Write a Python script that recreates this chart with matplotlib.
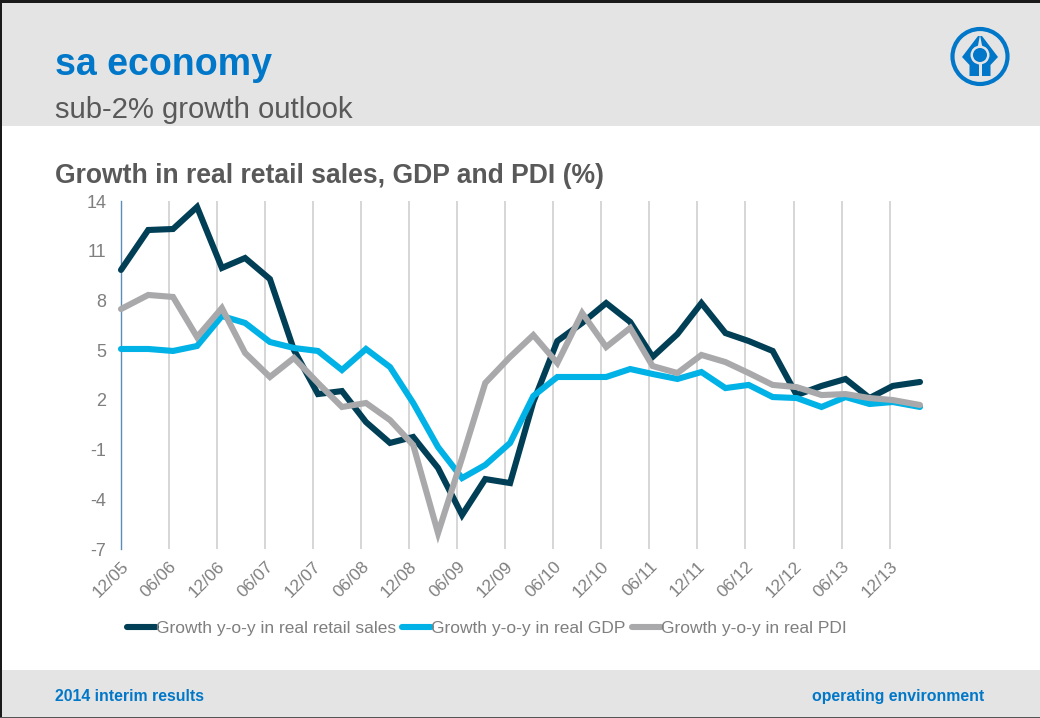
import matplotlib
matplotlib.use('Agg')
import matplotlib.pyplot as plt
from matplotlib.patches import Circle, Polygon, Rectangle

plt.rcParams['font.family'] = ['Liberation Sans', 'DejaVu Sans']
plt.rcParams['axes.unicode_minus'] = False

# months since Dec 2005
months = [0, 3.4, 6.5, 9.5, 12.6, 15.5, 18.6, 21.6, 24.6, 27.6, 30.6, 33.6,
          36.5, 39.6, 42.6, 45.5, 48.6, 51.5, 54.5, 57.6, 60.6, 63.6, 66.4, 69.5,
          72.5, 75.5, 78.4, 81.4, 84.4, 87.5, 90.5, 93.5, 96.4, 99.8]
retail = [9.84, 12.25, 12.31, 13.64, 9.96, 10.56, 9.29, 5.01, 2.35, 2.53, 0.66, -0.60,
          -0.24, -2.11, -4.95, -2.78, -3.02, 1.87, 5.55, 6.64, 7.84, 6.70, 4.59, 5.97,
          7.84, 6.03, 5.55, 4.95, 2.29, 2.84, 3.26, 2.11, 2.84, 3.08]
gdp = [5.07, 5.07, 4.95, 5.25, 7.06, 6.64, 5.49, 5.13, 4.95, 3.80, 5.07, 3.98,
       1.81, -0.85, -2.72, -1.93, -0.60, 2.23, 3.38, 3.38, 3.38, 3.86, 3.56, 3.26,
       3.68, 2.71, 2.90, 2.17, 2.11, 1.57, 2.17, 1.75, 1.87, 1.57]
pdi = [7.48, 8.33, 8.21, 5.79, 7.54, 4.83, 3.38, 4.53, 3.02, 1.57, 1.81, 0.78,
       -0.73, -6.04, -1.51, 3.02, 4.59, 5.91, 4.22, 7.24, 5.19, 6.34, 4.04, 3.62,
       4.71, 4.28, 3.62, 2.90, 2.77, 2.29, 2.35, 2.11, 1.99, 1.69]
y_ticks = [14, 11, 8, 5, 2, -1, -4, -7]
x_ticks = list(range(0, 97, 6))
x_labels = ['12/05', '06/06', '12/06', '06/07', '12/07', '06/08', '12/08', '06/09', '12/09',
            '06/10', '12/10', '06/11', '12/11', '06/12', '12/12', '06/13', '12/13']

BLUE = '#0077C8'
GREY_BAND = '#E4E4E4'
W, H = 1040, 718
fig = plt.figure(figsize=(10.4, 7.18), dpi=100, facecolor='white')

# slide background, drawn in pixel units
bg = fig.add_axes([0, 0, 1, 1])
bg.set_xlim(0, W)
bg.set_ylim(H, 0)
bg.axis('off')
bg.add_patch(Rectangle((0, 0), W, 126, fc=GREY_BAND, ec='none'))
bg.add_patch(Rectangle((0, 670), W, 48, fc=GREY_BAND, ec='none'))
bg.add_patch(Rectangle((0, 0), W, 2.5, fc='#1A1A1A', ec='none'))
bg.add_patch(Rectangle((0, 0), 2, H, fc='#1A1A1A', ec='none'))
bg.add_patch(Rectangle((0, 716.5), W, 1.5, fc='#555555', ec='none'))

bg.text(55, 75, 'sa economy', color=BLUE, fontsize=27, fontweight='bold', va='baseline')
bg.text(55, 118, 'sub-2% growth outlook', color='#595959', fontsize=21.1, va='baseline')
bg.text(55, 183, 'Growth in real retail sales, GDP and PDI (%)', color='#595959',
        fontsize=19.1, fontweight='bold', va='baseline')
bg.text(55, 701, '2014 interim results', color=BLUE, fontsize=11.4, fontweight='bold', va='baseline')
bg.text(984, 701, 'operating environment', color=BLUE, fontsize=11.4, fontweight='bold',
        va='baseline', ha='right')

# bank logo
cx, cy = 980, 56.5
bg.add_patch(Circle((cx, cy), 27.5, fc='none', ec=BLUE, lw=3))
bg.add_patch(Polygon([(cx - 2, 36), (cx - 18, 57), (cx - 10.5, 65), (cx - 10.5, 76),
                      (cx + 10.5, 76), (cx + 10.5, 65), (cx + 18, 57), (cx + 2, 36)],
                     closed=True, fc=BLUE, ec='none'))
bg.add_patch(Polygon([(cx, 35), (cx - 2.5, 48), (cx + 2.5, 48)], closed=True, fc=GREY_BAND, ec='none'))
bg.add_patch(Circle((cx, 55), 9.5, fc=GREY_BAND, ec='none'))
bg.add_patch(Rectangle((cx - 1.5, 60), 3, 18, fc=GREY_BAND, ec='none'))
bg.add_patch(Circle((cx, 55), 7, fc=BLUE, ec='none'))

# chart
ax = fig.add_axes([121 / W, 1 - 549 / H, (920 - 121) / W, (549 - 201) / H])
ax.patch.set_alpha(0)
ax.set_xlim(0, 99.8)
ax.set_ylim(-7, 14)
ax.vlines(x_ticks[1:], -7, 14, color='#CFCFCF', lw=1.2, zorder=1)
ax.plot(months, retail, color='#003F56', lw=4.4, solid_joinstyle='miter', solid_capstyle='round',
        label='Growth y-o-y in real retail sales', zorder=3, clip_on=False)
ax.plot(months, gdp, color='#00B2E6', lw=4.4, solid_joinstyle='miter', solid_capstyle='round',
        label='Growth y-o-y in real GDP', zorder=4, clip_on=False)
ax.plot(months, pdi, color='#A9A9AB', lw=4.4, solid_joinstyle='miter', solid_capstyle='round',
        label='Growth y-o-y in real PDI', zorder=5, clip_on=False)

for s in ['top', 'right', 'bottom']:
    ax.spines[s].set_visible(False)
ax.spines['left'].set_color('#5B8DB8')
ax.spines['left'].set_linewidth(1)

ax.set_yticks(y_ticks)
ax.set_xticks(x_ticks)
ax.set_xticklabels(x_labels, rotation=45, ha='right', rotation_mode='anchor')
ax.tick_params(axis='y', length=0, pad=10.5, labelsize=13, labelcolor='#7F7F7F')
ax.tick_params(axis='x', length=0, pad=7, labelsize=12.5, labelcolor='#7F7F7F')

ax.legend(loc='center left', bbox_to_anchor=(6 / 799, -79 / 348), ncol=3, frameon=False,
          fontsize=12.5, labelcolor='#7F7F7F', handlelength=1.65, handletextpad=0,
          columnspacing=0.38, borderpad=0, borderaxespad=0)

fig.savefig('out.png', dpi=100)
